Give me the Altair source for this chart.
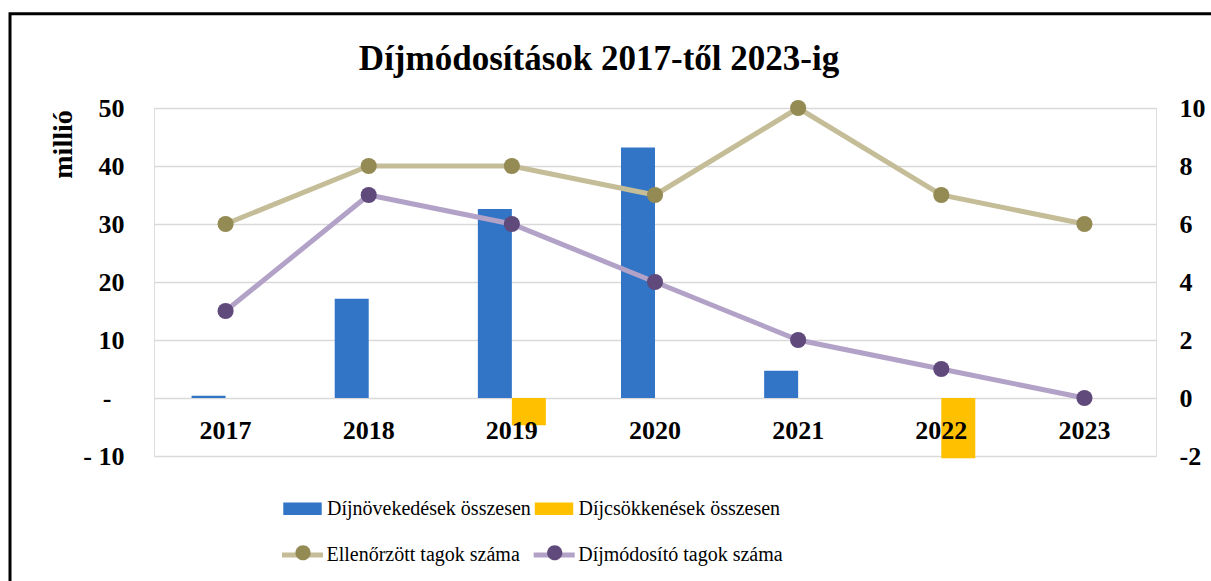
import altair as alt
import pandas as pd

years = ["2017", "2018", "2019", "2020", "2021", "2022", "2023"]
novekedes = [0.4, 17.1, 32.6, 43.2, 4.7, 0.0, 0.0]
csokkenes = [0.0, 0.0, -4.7, 0.0, 0.0, -10.4, 0.0]
ellenorzott = [6, 8, 8, 7, 10, 7, 6]
dijmodosito = [3, 7, 6, 4, 2, 1, 0]

bar_names = ["Díjnövekedések összesen", "Díjcsökkenések összesen"]
line_names = ["Ellenőrzött tagok száma", "Díjmódosító tagok száma"]
bar_colors = ["#3274C6", "#FFC000"]
line_colors = ["#C4BD97", "#B3A2C7"]
point_colors = ["#948A54", "#604A7B"]

FONT = "Liberation Serif"

bar_df = pd.DataFrame(
    [{"year": y, "series": bar_names[0], "value": v} for y, v in zip(years, novekedes)]
    + [{"year": y, "series": bar_names[1], "value": v} for y, v in zip(years, csokkenes)]
)
line_df = pd.DataFrame(
    [{"year": y, "lseries": line_names[0], "pseries": line_names[0], "value": v} for y, v in zip(years, ellenorzott)]
    + [{"year": y, "lseries": line_names[1], "pseries": line_names[1], "value": v} for y, v in zip(years, dijmodosito)]
)

x_enc = alt.X(
    "year:N",
    sort=years,
    scale=alt.Scale(paddingInner=0.525, paddingOuter=0.2625),
    axis=alt.Axis(
        title=None, orient="bottom", offset=-58, labelPadding=19, ticks=False, domain=False,
        labelFont=FONT, labelFontSize=26, labelFontWeight="bold", labelColor="black",
        labelAngle=0, grid=False, zindex=1,
    ),
)

bars = alt.Chart(bar_df).mark_bar().encode(
    x=x_enc,
    xOffset=alt.XOffset("series:N", sort=bar_names, scale=alt.Scale(paddingInner=0, paddingOuter=0)),
    y=alt.Y(
        "value:Q",
        scale=alt.Scale(domain=[-10, 50], nice=False, zero=False),
        axis=alt.Axis(
            title="millió", orient="left", values=[-10, 0, 10, 20, 30, 40, 50],
            labelExpr="datum.value == 0 ? '-' : (datum.value < 0 ? '- ' + format(-datum.value, 'd') : format(datum.value, 'd'))",
            labelFont=FONT, labelFontSize=26, labelFontWeight="bold", labelColor="black",
            labelPadding={"condition": {"test": "datum.value == 0", "value": 43}, "value": 30},
            ticks=False, domain=False,
            grid=True, gridColor="#D9D9D9", gridWidth=1.5,
            titleFont=FONT, titleFontSize=28, titleFontWeight="bold", titleColor="black",
            titleAngle=270, titleX=-83, titleY=36, titleAlign="center", titleBaseline="alphabetic",
        ),
    ),
    fill=alt.Fill(
        "series:N",
        sort=bar_names,
        scale=alt.Scale(domain=bar_names, range=bar_colors),
        legend=alt.Legend(
            title=None, orient="none", legendX=128, legendY=380, direction="horizontal",
            symbolType="M-0.937,-0.3H0.937V0.3H-0.937Z", symbolSize=1681, symbolStrokeWidth=0,
            labelOffset=4, columnPadding=2.5,
            labelFont=FONT, labelFontSize=20, labelColor="black", labelLimit=400,
        ),
    ),
)

y_right = alt.Y(
    "value:Q",
    scale=alt.Scale(domain=[-2, 10], nice=False, zero=False),
    axis=alt.Axis(
        title=None, orient="right", values=[-2, 0, 2, 4, 6, 8, 10],
        labelExpr="datum.value < 0 ? '-' + format(-datum.value, 'd') : format(datum.value, 'd')",
        labelFont=FONT, labelFontSize=26, labelFontWeight="bold", labelColor="black",
        labelPadding=23, ticks=False, domain=False, grid=False,
    ),
)

lines = alt.Chart(line_df).mark_line(strokeWidth=5).encode(
    x=x_enc,
    y=y_right,
    stroke=alt.Stroke(
        "lseries:N",
        sort=line_names,
        scale=alt.Scale(domain=line_names, range=line_colors),
        legend=alt.Legend(
            title=None, orient="none", legendX=125.5, legendY=424, direction="horizontal",
            symbolType="stroke", symbolSize=1681, symbolStrokeWidth=5,
            labelOffset=1, columnPadding=2.7,
            labelFont=FONT, labelFontSize=20, labelColor="black", labelLimit=400,
        ),
    ),
)

points = alt.Chart(line_df).mark_circle(size=260, opacity=1).encode(
    x=x_enc,
    y=y_right,
    fill=alt.Fill(
        "pseries:N",
        sort=line_names,
        scale=alt.Scale(domain=line_names, range=point_colors),
        legend=alt.Legend(
            title=None, orient="none", legendX=128.5, legendY=424, direction="horizontal",
            symbolType="M-0.37,0A0.37,0.37 0 1,0 0.37,0A0.37,0.37 0 1,0 -0.37,0Z",
            symbolSize=1681, symbolStrokeWidth=0, symbolOpacity=1,
            labelOffset=0, columnPadding=210.7, labelExpr="''",
            labelFont=FONT, labelFontSize=20, labelColor="black", zindex=2,
        ),
    ),
)

frame = alt.Chart(pd.DataFrame({"k": [0]})).mark_rect(
    fill=None, stroke="black", strokeWidth=3
).encode(
    x=alt.value(-144), x2=alt.value(1100), y=alt.value(-94.3), y2=alt.value(600)
)

inner = alt.layer(lines, points)

chart = alt.layer(bars, inner, frame).resolve_scale(
    y="independent", fill="independent"
).properties(
    width=1002,
    height=348,
    autosize=alt.AutoSizeParams(type="none"),
    padding={"left": 154, "top": 108, "right": 55, "bottom": 125},
    title=alt.TitleParams(
        "Díjmódosítások 2017-től 2023-ig",
        font=FONT, fontSize=35, fontWeight="bold", color="black",
        anchor="middle", frame="group", dx=-56, offset=0, baseline="alphabetic", dy=93,
    ),
).configure_view(stroke=None).configure(background="white")

chart.save("out.html", embed_options={"renderer": "svg", "actions": False})
